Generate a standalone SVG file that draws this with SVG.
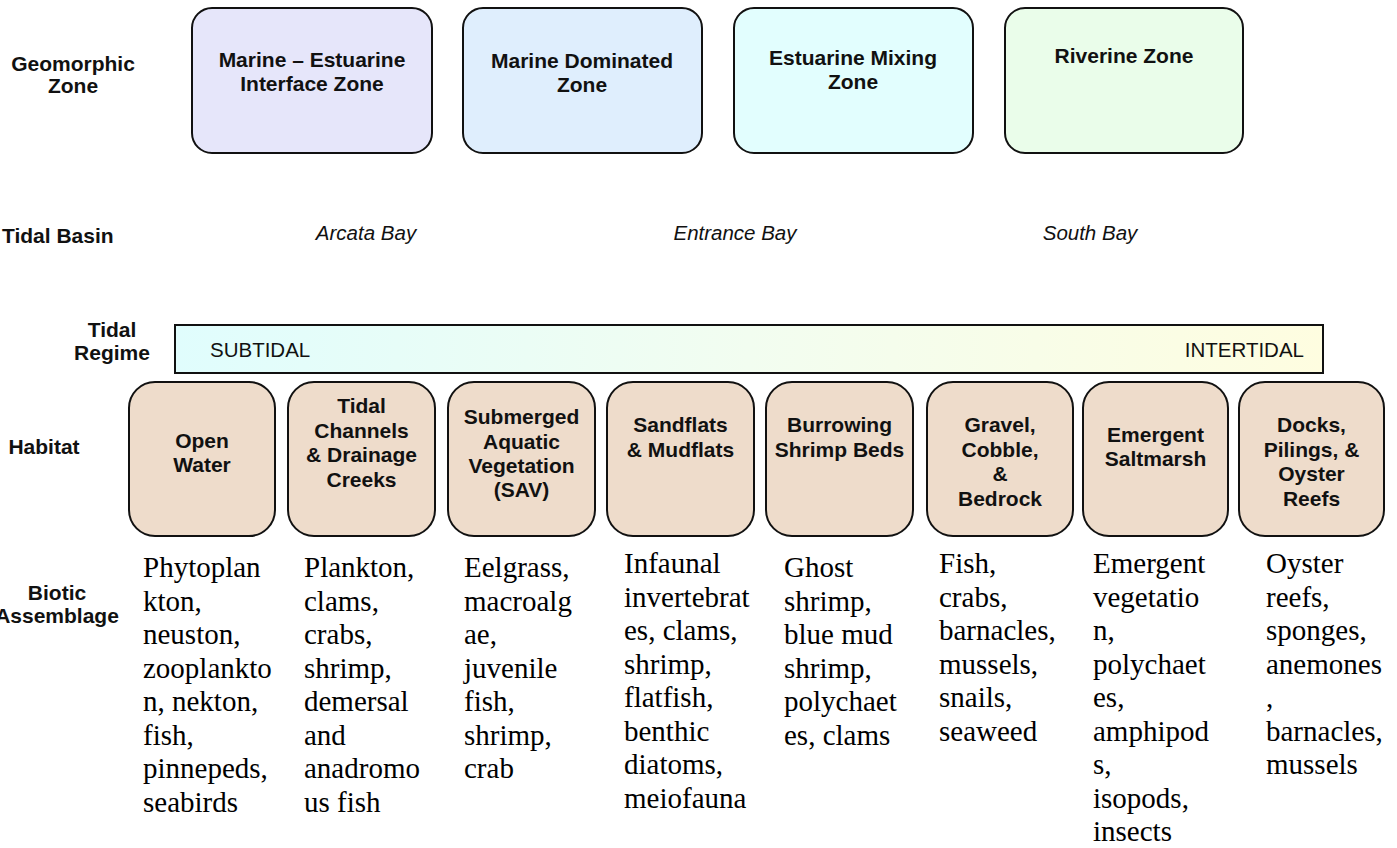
<svg xmlns="http://www.w3.org/2000/svg" width="1397" height="848" viewBox="0 0 1397 848">
  <defs>
    <linearGradient id="tideGrad" x1="0" y1="0" x2="1" y2="0">
      <stop offset="0" stop-color="#e0fdfd"/>
      <stop offset="0.5" stop-color="#f2fdf0"/>
      <stop offset="1" stop-color="#fefde0"/>
    </linearGradient>
    <style>
      .lbl { font-family: "Liberation Sans", Arial, sans-serif; font-weight: bold; font-size: 21px; fill: #111; text-anchor: middle; }
      .zone { font-family: "Liberation Sans", Arial, sans-serif; font-weight: bold; font-size: 21px; fill: #111; text-anchor: middle; }
      .hab { font-family: "Liberation Sans", Arial, sans-serif; font-weight: bold; font-size: 21px; fill: #111; text-anchor: middle; }
      .basin { font-family: "Liberation Sans", Arial, sans-serif; font-style: italic; font-size: 20.5px; fill: #111; text-anchor: middle; }
      .tide { font-family: "Liberation Sans", Arial, sans-serif; font-size: 20.5px; fill: #111; }
      .bio { font-family: "Liberation Serif", "Times New Roman", serif; font-size: 29px; fill: #000; }
      .zbox { stroke: #111; stroke-width: 2; }
      .hbox { fill: #eedccb; stroke: #111; stroke-width: 2; }
    </style>
  </defs>
  <rect width="1397" height="848" fill="#ffffff"/>

  <!-- Row labels -->
  <g id="row-labels">
    <text class="lbl" x="73" y="71">Geomorphic</text>
    <text class="lbl" x="73" y="93">Zone</text>
    <text class="lbl" x="2" y="243" style="text-anchor:start">Tidal Basin</text>
    <text class="lbl" x="112" y="337">Tidal</text>
    <text class="lbl" x="112" y="360">Regime</text>
    <text class="lbl" x="44" y="454">Habitat</text>
    <text class="lbl" x="57" y="600">Biotic</text>
    <text class="lbl" x="57" y="623">Assemblage</text>
  </g>

  <!-- Geomorphic zones -->
  <g id="zone-marine-estuarine">
    <rect class="zbox" x="192" y="8" width="240" height="145" rx="20" fill="#e6e6fa"/>
    <text class="zone" x="312" y="67">Marine – Estuarine</text>
    <text class="zone" x="312" y="91">Interface Zone</text>
  </g>
  <g id="zone-marine-dominated">
    <rect class="zbox" x="463" y="8" width="239" height="145" rx="20" fill="#dfeefd"/>
    <text class="zone" x="582" y="68">Marine Dominated</text>
    <text class="zone" x="582" y="92">Zone</text>
  </g>
  <g id="zone-estuarine-mixing">
    <rect class="zbox" x="734" y="8" width="239" height="145" rx="20" fill="#e2fefe"/>
    <text class="zone" x="853" y="65">Estuarine Mixing</text>
    <text class="zone" x="853" y="89">Zone</text>
  </g>
  <g id="zone-riverine">
    <rect class="zbox" x="1005" y="8" width="238" height="145" rx="20" fill="#eafdea"/>
    <text class="zone" x="1124" y="63">Riverine Zone</text>
  </g>

  <!-- Tidal basins -->
  <g id="basin-arcata"><text class="basin" x="366" y="240">Arcata Bay</text></g>
  <g id="basin-entrance"><text class="basin" x="735" y="240">Entrance Bay</text></g>
  <g id="basin-south"><text class="basin" x="1090" y="240">South Bay</text></g>

  <!-- Tidal regime bar -->
  <g id="tidal-regime">
    <rect x="175" y="325" width="1148" height="48" fill="url(#tideGrad)" stroke="#111" stroke-width="2"/>
    <text class="tide" x="210" y="357">SUBTIDAL</text>
    <text class="tide" x="1304" y="357" style="text-anchor:end">INTERTIDAL</text>
  </g>

  <!-- Habitats -->
  <g id="hab-open-water">
    <rect class="hbox" x="129" y="382" width="146" height="154" rx="26"/>
    <text class="hab" x="202" y="448">Open</text>
    <text class="hab" x="202" y="472">Water</text>
  </g>
  <g id="hab-tidal-channels">
    <rect class="hbox" x="288" y="382" width="147" height="154" rx="26"/>
    <text class="hab" x="361.5" y="413">Tidal</text>
    <text class="hab" x="361.5" y="437.5">Channels</text>
    <text class="hab" x="361.5" y="462">&amp; Drainage</text>
    <text class="hab" x="361.5" y="486.5">Creeks</text>
  </g>
  <g id="hab-sav">
    <rect class="hbox" x="448" y="382" width="147" height="154" rx="26"/>
    <text class="hab" x="521.5" y="424">Submerged</text>
    <text class="hab" x="521.5" y="448.5">Aquatic</text>
    <text class="hab" x="521.5" y="473">Vegetation</text>
    <text class="hab" x="521.5" y="497">(SAV)</text>
  </g>
  <g id="hab-sandflats">
    <rect class="hbox" x="607" y="382" width="147" height="154" rx="26"/>
    <text class="hab" x="680.5" y="432">Sandflats</text>
    <text class="hab" x="680.5" y="456.5">&amp; Mudflats</text>
  </g>
  <g id="hab-burrowing-shrimp">
    <rect class="hbox" x="766" y="382" width="147" height="154" rx="26"/>
    <text class="hab" x="839.5" y="432">Burrowing</text>
    <text class="hab" x="839.5" y="456.5">Shrimp Beds</text>
  </g>
  <g id="hab-gravel">
    <rect class="hbox" x="927" y="382" width="146" height="154" rx="26"/>
    <text class="hab" x="1000" y="432">Gravel,</text>
    <text class="hab" x="1000" y="456.5">Cobble,</text>
    <text class="hab" x="1000" y="481">&amp;</text>
    <text class="hab" x="1000" y="506">Bedrock</text>
  </g>
  <g id="hab-saltmarsh">
    <rect class="hbox" x="1083" y="382" width="145" height="154" rx="26"/>
    <text class="hab" x="1155.5" y="442">Emergent</text>
    <text class="hab" x="1155.5" y="466">Saltmarsh</text>
  </g>
  <g id="hab-docks">
    <rect class="hbox" x="1239" y="382" width="145" height="154" rx="26"/>
    <text class="hab" x="1311.5" y="432">Docks,</text>
    <text class="hab" x="1311.5" y="456.5">Pilings, &amp;</text>
    <text class="hab" x="1311.5" y="481">Oyster</text>
    <text class="hab" x="1311.5" y="506">Reefs</text>
  </g>

  <!-- Biotic assemblages -->
  <g id="bio-open-water">
    <text class="bio" x="143" y="577">Phytoplan<tspan x="143" dy="33.5">kton,</tspan><tspan x="143" dy="33.5">neuston,</tspan><tspan x="143" dy="33.5">zooplankto</tspan><tspan x="143" dy="33.5">n, nekton,</tspan><tspan x="143" dy="33.5">fish,</tspan><tspan x="143" dy="33.5">pinnepeds,</tspan><tspan x="143" dy="33.5">seabirds</tspan></text>
  </g>
  <g id="bio-tidal-channels">
    <text class="bio" x="304" y="577">Plankton,<tspan x="304" dy="33.5">clams,</tspan><tspan x="304" dy="33.5">crabs,</tspan><tspan x="304" dy="33.5">shrimp,</tspan><tspan x="304" dy="33.5">demersal</tspan><tspan x="304" dy="33.5">and</tspan><tspan x="304" dy="33.5">anadromo</tspan><tspan x="304" dy="33.5">us fish</tspan></text>
  </g>
  <g id="bio-sav">
    <text class="bio" x="464" y="577">Eelgrass,<tspan x="464" dy="33.5">macroalg</tspan><tspan x="464" dy="33.5">ae,</tspan><tspan x="464" dy="33.5">juvenile</tspan><tspan x="464" dy="33.5">fish,</tspan><tspan x="464" dy="33.5">shrimp,</tspan><tspan x="464" dy="33.5">crab</tspan></text>
  </g>
  <g id="bio-sandflats">
    <text class="bio" x="624" y="573">Infaunal<tspan x="624" dy="33.5">invertebrat</tspan><tspan x="624" dy="33.5">es, clams,</tspan><tspan x="624" dy="33.5">shrimp,</tspan><tspan x="624" dy="33.5">flatfish,</tspan><tspan x="624" dy="33.5">benthic</tspan><tspan x="624" dy="33.5">diatoms,</tspan><tspan x="624" dy="33.5">meiofauna</tspan></text>
  </g>
  <g id="bio-burrowing-shrimp">
    <text class="bio" x="784" y="577">Ghost<tspan x="784" dy="33.5">shrimp,</tspan><tspan x="784" dy="33.5">blue mud</tspan><tspan x="784" dy="33.5">shrimp,</tspan><tspan x="784" dy="33.5">polychaet</tspan><tspan x="784" dy="33.5">es, clams</tspan></text>
  </g>
  <g id="bio-gravel">
    <text class="bio" x="939" y="573">Fish,<tspan x="939" dy="33.5">crabs,</tspan><tspan x="939" dy="33.5">barnacles,</tspan><tspan x="939" dy="33.5">mussels,</tspan><tspan x="939" dy="33.5">snails,</tspan><tspan x="939" dy="33.5">seaweed</tspan></text>
  </g>
  <g id="bio-saltmarsh">
    <text class="bio" x="1093" y="573">Emergent<tspan x="1093" dy="33.5">vegetatio</tspan><tspan x="1093" dy="33.5">n,</tspan><tspan x="1093" dy="33.5">polychaet</tspan><tspan x="1093" dy="33.5">es,</tspan><tspan x="1093" dy="33.5">amphipod</tspan><tspan x="1093" dy="33.5">s,</tspan><tspan x="1093" dy="33.5">isopods,</tspan><tspan x="1093" dy="33.5">insects</tspan></text>
  </g>
  <g id="bio-docks">
    <text class="bio" x="1266" y="573">Oyster<tspan x="1266" dy="33.5">reefs,</tspan><tspan x="1266" dy="33.5">sponges,</tspan><tspan x="1266" dy="33.5">anemones</tspan><tspan x="1266" dy="33.5">,</tspan><tspan x="1266" dy="33.5">barnacles,</tspan><tspan x="1266" dy="33.5">mussels</tspan></text>
  </g>
</svg>
